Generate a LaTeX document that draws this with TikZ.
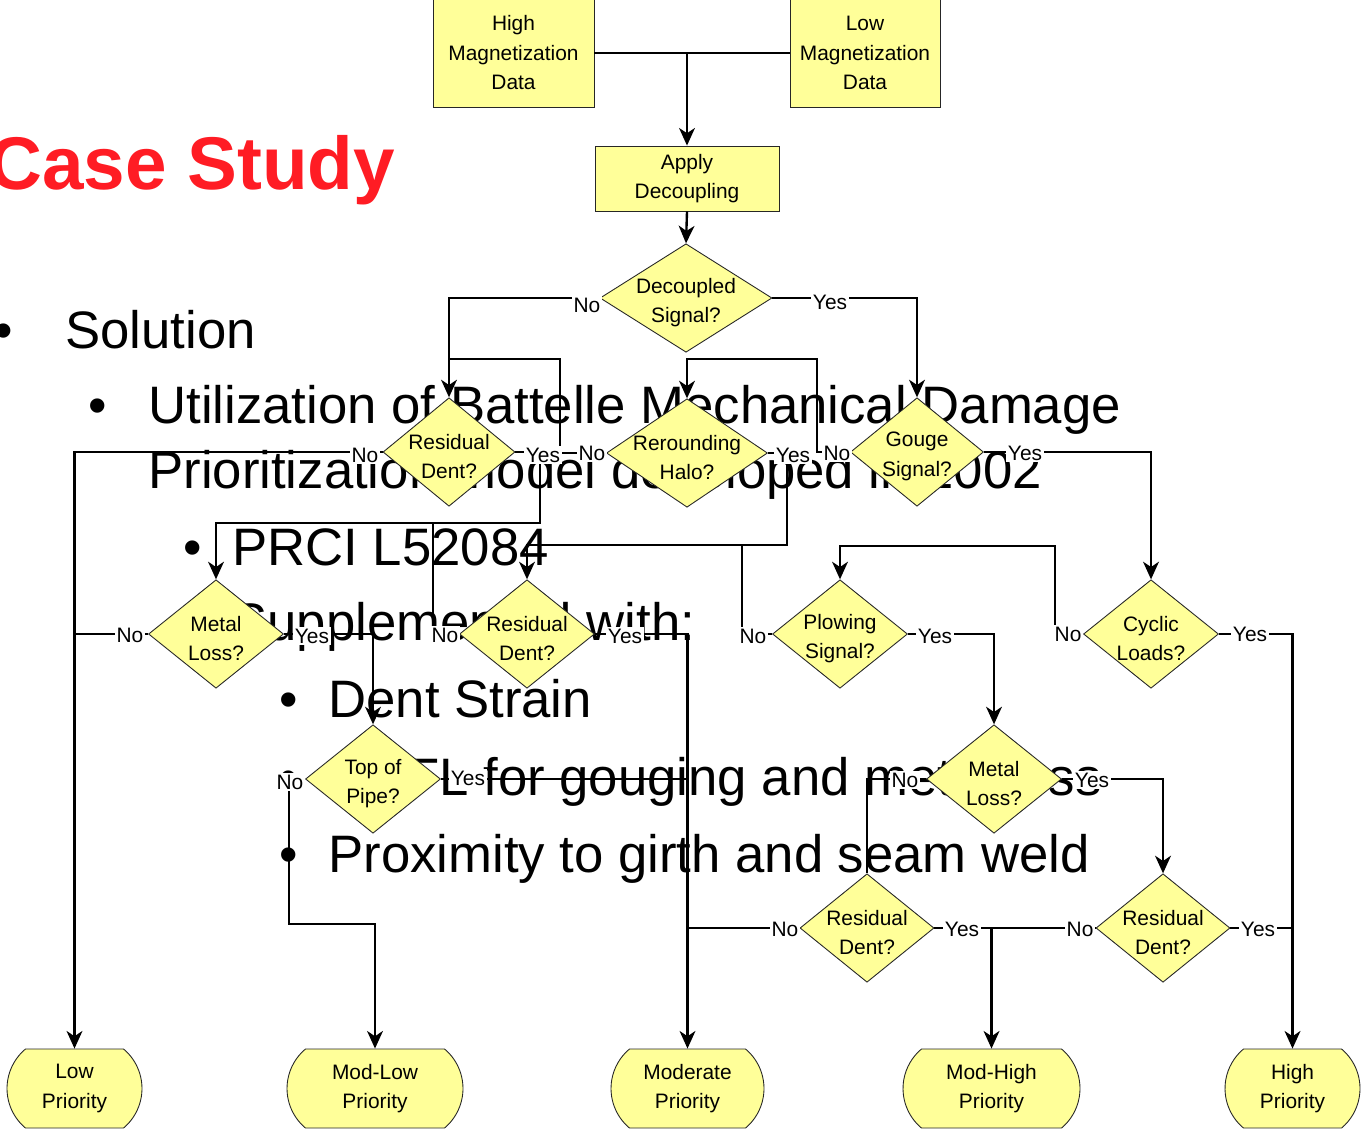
\documentclass[tikz,border=0pt]{standalone}
\usepackage{fontspec}
\setmainfont{Liberation Sans}
\usetikzlibrary{shapes.geometric,shapes.misc,arrows.meta}

\definecolor{flowyellow}{RGB}{255,255,153}
\definecolor{titlered}{RGB}{255,28,36}

\tikzset{
   box/.style={rectangle,draw=black!85,fill=flowyellow,line width=0.5pt,
      align=center,inner sep=0pt,font=\fontsize{11.9}{16.8}\selectfont},
   decision/.style={diamond,draw=black!85,fill=flowyellow,line width=0.5pt,
      inner sep=0pt,minimum height=2.17cm},
   endbox/.style={rounded rectangle,rounded rectangle arc length=100,
      draw=black!85,fill=flowyellow,line width=0.5pt,align=center,
      inner sep=0pt,minimum height=1.58cm,font=\fontsize{11.9}{16.8}\selectfont},
   qtext/.style={align=center,inner sep=0pt,yshift=-0.09cm,
      font=\fontsize{11.9}{16.8}\selectfont},
   link/.style={line width=1.35pt},
   flow/.style={link,-{Stealth[length=10pt,width=9pt,inset=3pt]}},
   yesno/.style={fill=white,inner sep=1pt,font=\fontsize{11.9}{14}\selectfont},
   slide/.style={anchor=base west,inner sep=0pt,font=\fontsize{30}{36}\selectfont},
}

\begin{document}
\begin{tikzpicture}[x=0.02cm,y=-0.02cm]
            \fill [white] (0,0) rectangle (1364,1129);
            \useasboundingbox (0,0) rectangle (1364,1129);

            % slide text behind the chart
            \node [anchor=base west,inner sep=0pt,text=titlered,
               font=\fontsize{42.5}{50}\selectfont\bfseries] (title) at (-12,189) {Case Study};
            \node [slide] (bulA) at (-6,348) {•};
            \node [slide] (solution) at (65,348) {Solution};
            \node [slide] (bulB) at (88,423) {•};
            \node [slide] (useA) at (148,423) {Utilization of Battelle Mechanical Damage};
            \node [slide] (useB) at (148,488) {Prioritization model developed in 2002};
            \node [slide] (bulC) at (183,565) {•};
            \node [slide] (prci) at (232,565) {PRCI L52084};
            \node [slide] (bulD) at (183,640) {•};
            \node [slide] (suppl) at (232,640) {Supplemented with:};
            \node [slide] (bulE) at (279,717) {•};
            \node [slide] (strain) at (328,717) {Dent Strain};
            \node [slide] (bulF) at (279,795) {•};
            \node [slide] (mfl) at (363,795) {MFL for gouging and metal loss};
            \node [slide] (bulG) at (279,872) {•};
            \node [slide] (weld) at (328,872) {Proximity to girth and seam weld};

            % chart
            \node [box,minimum width=3.22cm,minimum height=2.18cm] (hmdata)
               at (513.5,53) {High\\Magnetization\\Data};
            \node [box,minimum width=3.0cm,minimum height=2.18cm] (lmdata)
               at (865,53) {Low\\Magnetization\\Data};
            \node [box,minimum width=3.68cm,minimum height=1.3cm] (decouple)
               at (687,178.5) {Apply\\Decoupling};

            \node [decision,minimum width=3.44cm,
               label={[qtext]center:Decoupled\\Signal?}] (signal) at (686,298) {};
            \node [decision,minimum width=2.64cm,
               label={[qtext]center:Residual\\Dent?}] (dentA) at (449,452) {};
            \node [decision,minimum width=3.22cm,
               label={[qtext]center:Rerounding\\Halo?}] (halo) at (687,453) {};
            \node [decision,minimum width=2.66cm,
               label={[qtext]center:Gouge\\Signal?}] (gouge) at (917,452) {};
            \node [decision,minimum width=2.7cm,
               label={[qtext]center:Metal\\Loss?}] (lossA) at (216,634) {};
            \node [decision,minimum width=2.7cm,
               label={[qtext]center:Residual\\Dent?}] (dentB) at (527,634) {};
            \node [decision,minimum width=2.7cm,
               label={[qtext]center:Plowing\\Signal?}] (plow) at (840,634) {};
            \node [decision,minimum width=2.7cm,
               label={[qtext]center:Cyclic\\Loads?}] (cyclic) at (1151,634) {};
            \node [decision,minimum width=2.7cm,
               label={[qtext]center:Top of\\Pipe?}] (toppipe) at (373,779) {};
            \node [decision,minimum width=2.7cm,
               label={[qtext]center:Metal\\Loss?}] (lossB) at (994,779) {};
            \node [decision,minimum width=2.68cm,
               label={[qtext]center:Residual\\Dent?}] (dentC) at (867,928) {};
            \node [decision,minimum width=2.68cm,
               label={[qtext]center:Residual\\Dent?}] (dentD) at (1163,928) {};

            \node [endbox,minimum width=2.7cm] (lowp) at (74.5,1088.5) {Low\\Priority};
            \node [endbox,minimum width=3.52cm] (modlowp) at (375,1088.5) {Mod-Low\\Priority};
            \node [endbox,minimum width=3.06cm] (modp) at (687.5,1088.5) {Moderate\\Priority};
            \node [endbox,minimum width=3.54cm] (modhighp) at (991.5,1088.5) {Mod-High\\Priority};
            \node [endbox,minimum width=2.7cm] (highp) at (1292.5,1088.5) {High\\Priority};

            \coordinate (haloNo) at (560,359);
            \coordinate (gougeNo) at (817,359);
            \coordinate (dentAYes) at (540,523);
            \coordinate (dentBNo) at (433,523);
            \coordinate (haloYes) at (787,545);
            \coordinate (plowNo) at (742,545);
            \coordinate (cyclicNo) at (1055,546);
            \coordinate (pipeNo) at (289,924);

            \draw [link] (hmdata.east) -- (lmdata.west);
            \draw [flow] (decouple.north |- hmdata.east) -- (decouple.north);
            \draw [flow] (decouple.south) -- (signal.north);
            \draw [flow] (signal.west) -| (dentA.north);
            \draw [flow] (signal.east) -| (gouge.north);
            \draw [link]
               (halo.west) -| (haloNo) -- (dentA.north |- haloNo);
            \draw [flow]
               (gouge.west) -| (gougeNo) -| (halo.north);
            \draw [flow] (dentA.west) -| (lowp.north);
            \draw [link] (lossA.west) -- (lossA.west -| lowp.north);
            \draw [flow]
               (dentA.east) -| (dentAYes) -| (lossA.north);
            \draw [link] (dentB.west) -| (dentBNo);
            \draw [flow]
               (halo.east) -| (haloYes) -| (dentB.north);
            \draw [link] (plow.west) -| (plowNo);
            \draw [flow] (dentB.east) -| (modp.north);
            \draw [link] (toppipe.east) -- (toppipe.east -| modp.north);
            \draw [link] (dentC.west) -- (dentC.west -| modp.north);
            \draw [flow] (lossA.east) -| (toppipe.north);
            \draw [flow]
               (toppipe.west) -| (pipeNo) -| (modlowp.north);
            \draw [flow] (gouge.east) -| (cyclic.north);
            \draw [flow]
               (cyclic.west) -| (cyclicNo) -| (plow.north);
            \draw [flow] (cyclic.east) -| (highp.north);
            \draw [link] (dentD.east) -- (dentD.east -| highp.north);
            \draw [flow] (plow.east) -| (lossB.north);
            \draw [link] (lossB.west) -| (dentC.north);
            \draw [flow] (lossB.east) -| (dentD.north);
            \draw [flow] (dentC.east) -| (modhighp.north);
            \draw [link] (dentD.west) -- (dentD.west -| modhighp.north);

            % answers
            \node [yesno] (noA) at (587,305) {No};
            \node [yesno] (yesA) at (830,302) {Yes};
            \node [yesno] (noB) at (365,455) {No};
            \node [yesno] (yesB) at (543,455) {Yes};
            \node [yesno] (noC) at (592,453) {No};
            \node [yesno] (yesC) at (793,455) {Yes};
            \node [yesno] (noD) at (837,453) {No};
            \node [yesno] (yesD) at (1025,453) {Yes};
            \node [yesno] (noE) at (130,635) {No};
            \node [yesno] (yesE) at (312,636) {Yes};
            \node [yesno] (noF) at (445,635) {No};
            \node [yesno] (yesF) at (625,636) {Yes};
            \node [yesno] (noG) at (753,636) {No};
            \node [yesno] (yesG) at (935,636) {Yes};
            \node [yesno] (noH) at (1068,634) {No};
            \node [yesno] (yesH) at (1250,634) {Yes};
            \node [yesno] (noI) at (290,782) {No};
            \node [yesno] (yesI) at (468,778) {Yes};
            \node [yesno] (noJ) at (905,780) {No};
            \node [yesno] (yesJ) at (1092,780) {Yes};
            \node [yesno] (noK) at (785,929) {No};
            \node [yesno] (yesK) at (962,929) {Yes};
            \node [yesno] (noL) at (1080,929) {No};
            \node [yesno] (yesL) at (1258,929) {Yes};
         \end{tikzpicture}
\end{document}
